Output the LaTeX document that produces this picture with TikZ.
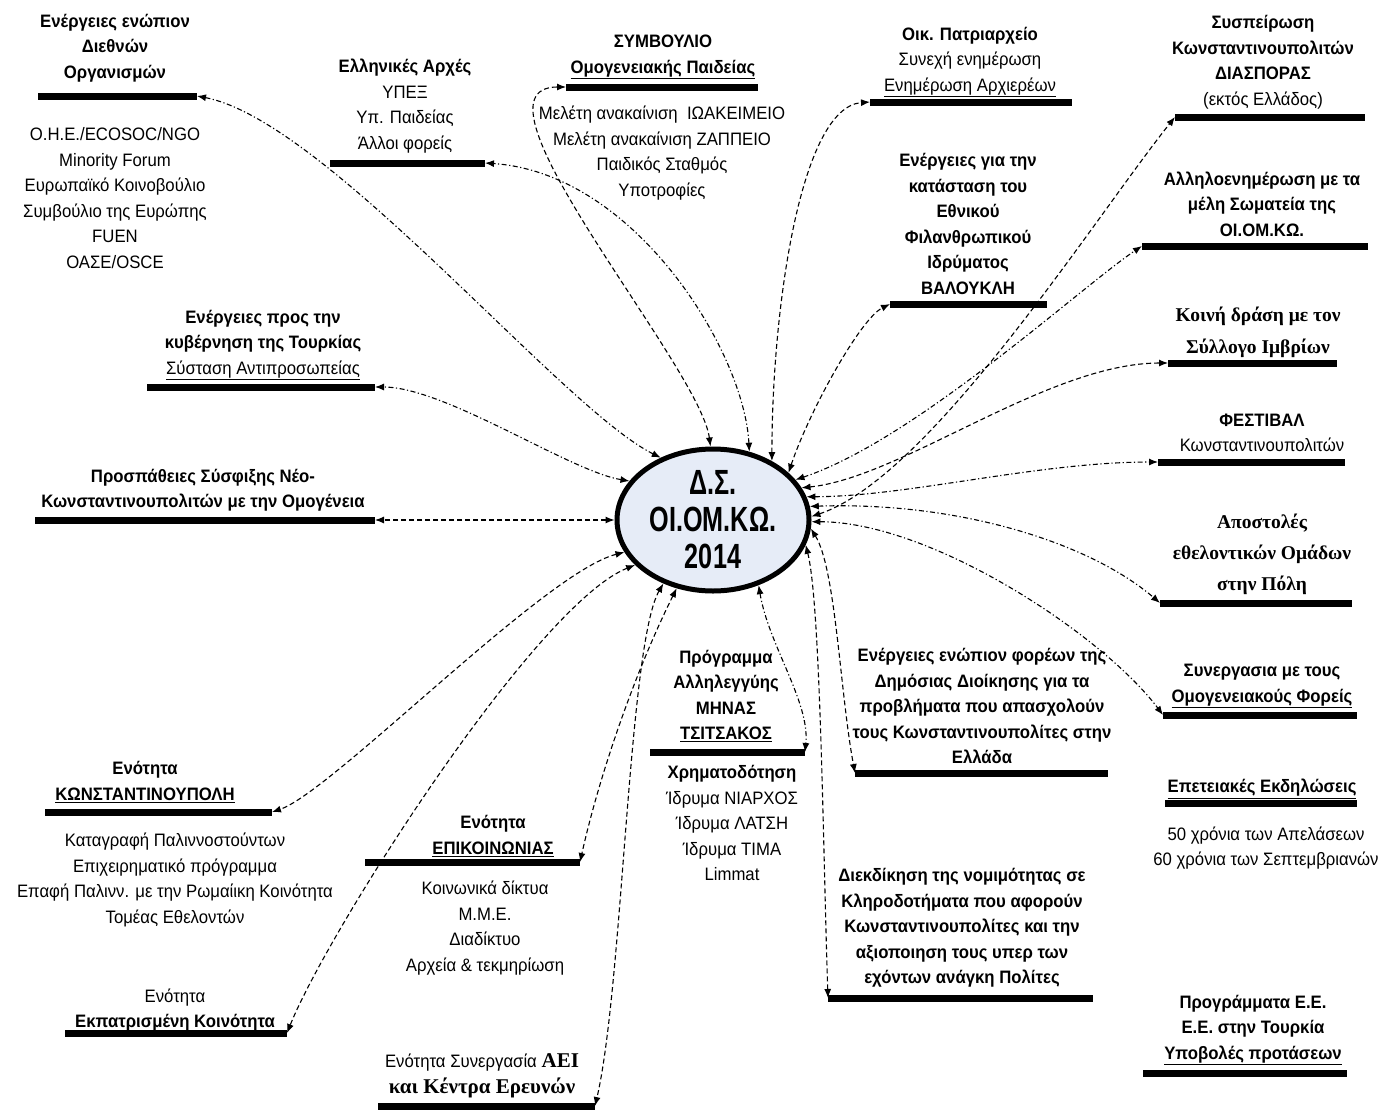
\documentclass[tikz,border=0pt]{standalone}
\usepackage{fontspec}
\setmainfont[FakeStretch=0.93]{Liberation Sans}
\newfontfamily\tnr{Liberation Serif}
\newfontfamily\dsfont[FakeStretch=0.72]{Liberation Sans}
\usetikzlibrary{arrows.meta,shapes.geometric}
\definecolor{dsfill}{RGB}{230,236,247}
\begin{document}
\fontsize{18}{25.5}\selectfont
\begin{tikzpicture}[x=1pt,y=-1pt,
    hd/.style={font=\bfseries,align=center,inner sep=0pt},
    tx/.style={align=center,inner sep=0pt},
    sf/.style={font=\tnr\bfseries\fontsize{19.5}{31}\selectfont,align=center,inner sep=0pt},
    bar/.style={line width=7pt},
    lk/.style={{Latex[length=9pt,width=7pt]}-{Latex[length=9pt,width=7pt]},line width=1.1pt,dash pattern=on 5pt off 3pt},
    lkdd/.style={lk,dash pattern=on 5pt off 2.5pt on 1.2pt off 2.5pt}]
\useasboundingbox (0,0) rectangle (1394,1111);

\node[ellipse,draw,line width=5pt,fill=dsfill,minimum width=192pt,minimum height=142pt,inner sep=0pt,
      font=\dsfont\bfseries\fontsize{35}{37}\selectfont,align=center] (ds) at (713,520) {Δ.Σ.\\ΟΙ.ΟΜ.ΚΩ.\\2014};

% left column
\node[hd] (intl) at (115,48) {Ενέργειες ενώπιον\\Διεθνών\\Οργανισμών};
\coordinate (intlL) at (38,96); \coordinate (intlR) at (197,96);
\node[tx] (intlx) at (115,198) {Ο.Η.Ε./ECOSOC/NGO\\Minority Forum\\Ευρωπαϊκό Κοινοβούλιο\\Συμβούλιο της Ευρώπης\\FUEN\\ΟΑΣΕ/OSCE};

\node[hd] (tur) at (263,345) {Ενέργειες προς την\\κυβέρνηση της Τουρκίας\\\mdseries\underline{Σύσταση Αντιπροσωπείας}};
\coordinate (turL) at (147,387); \coordinate (turR) at (375,387);

\node[hd] (pros) at (203,490) {Προσπάθειες Σύσφιξης Νέο-\\Κωνσταντινουπολιτών με την Ομογένεια};
\coordinate (prosL) at (35,520); \coordinate (prosR) at (375,520);

\node[hd] (kon) at (145,782) {Ενότητα\\\underline{ΚΩΝΣΤΑΝΤΙΝΟΥΠΟΛΗ}};
\coordinate (konL) at (45,812); \coordinate (konR) at (272,812);
\node[tx] (konx) at (175,880) {Καταγραφή Παλιννοστούντων\\Επιχειρηματικό πρόγραμμα\\Επαφή Παλινν. με την Ρωμαίικη Κοινότητα\\Τομέας Εθελοντών};

\node[tx] (ekp) at (175,1011) {Ενότητα\\\textbf{\underline{Εκπατρισμένη Κοινότητα}}};
\coordinate (ekpL) at (65,1033); \coordinate (ekpR) at (287,1033);

% top and bottom middle
\node[tx] (arch) at (405,106) {\textbf{Ελληνικές Αρχές}\\ΥΠΕΞ\\Υπ. Παιδείας\\Άλλοι φορείς};
\coordinate (archL) at (330,163); \coordinate (archR) at (485,163);

\node[hd] (symv) at (663,57) {ΣΥΜΒΟΥΛΙΟ\\\underline{Ομογενειακής Παιδείας}};
\coordinate (symvL) at (566,87); \coordinate (symvR) at (758,87);
\node[tx] (symvx) at (662,153) {Μελέτη ανακαίνιση \ ΙΩΑΚΕΙΜΕΙΟ\\Μελέτη ανακαίνιση ΖΑΠΠΕΙΟ\\Παιδικός Σταθμός\\Υποτροφίες};

\node[hd] (epi) at (493,836) {Ενότητα\\\underline{ΕΠΙΚΟΙΝΩΝΙΑΣ}};
\coordinate (epiL) at (365,862); \coordinate (epiR) at (580,862);
\node[tx] (epix) at (485,928) {Κοινωνικά δίκτυα\\Μ.Μ.Ε.\\Διαδίκτυο\\Αρχεία \& τεκμηρίωση};

\node[tx] (aei) at (482,1076) {Ενότητα Συνεργασία {\tnr\bfseries\fontsize{21}{31}\selectfont ΑΕΙ}\\{\tnr\bfseries\fontsize{21}{31}\selectfont και Κέντρα Ερευνών}};
\coordinate (aeiL) at (378,1106); \coordinate (aeiR) at (595,1106);

\node[hd] (min) at (726,696) {Πρόγραμμα\\Αλληλεγγύης\\ΜΗΝΑΣ\\\underline{ΤΣΙΤΣΑΚΟΣ}};
\coordinate (minL) at (650,752); \coordinate (minR) at (805,752);
\node[tx] (minx) at (732,823) {\textbf{Χρηματοδότηση}\\Ίδρυμα ΝΙΑΡΧΟΣ\\Ίδρυμα ΛΑΤΣΗ\\Ίδρυμα ΤΙΜΑ\\Limmat};

% right middle
\node[tx] (patr) at (970,62) {\textbf{Οικ. Πατριαρχείο}\\Συνεχή ενημέρωση\\\underline{Ενημέρωση Αρχιερέων}};
\coordinate (patrL) at (870,102); \coordinate (patrR) at (1072,102);

\node[hd] (val) at (968,224) {Ενέργειες για την\\κατάσταση του\\Εθνικού\\Φιλανθρωπικού\\Ιδρύματος\\ΒΑΛΟΥΚΛΗ};
\coordinate (valL) at (890,304); \coordinate (valR) at (1047,304);

\node[hd] (dim) at (982,706) {Ενέργειες ενώπιον φορέων της\\Δημόσιας Διοίκησης για τα\\προβλήματα που απασχολούν\\τους Κωνσταντινουπολίτες στην\\Ελλάδα};
\coordinate (dimL) at (855,773); \coordinate (dimR) at (1108,773);

\node[hd] (dik) at (962,928) {Διεκδίκηση της νομιμότητας σε\\Κληροδοτήματα που αφορούν\\Κωνσταντινουπολίτες και την\\αξιοποιηση τους υπερ των\\εχόντων ανάγκη Πολίτες};
\coordinate (dikL) at (828,998); \coordinate (dikR) at (1093,998);

% right column
\node[hd] (dias) at (1263,62) {Συσπείρωση\\Κωνσταντινουπολιτών\\ΔΙΑΣΠΟΡΑΣ\\\mdseries(εκτός Ελλάδος)};
\coordinate (diasL) at (1175,117); \coordinate (diasR) at (1365,117);

\node[hd] (all) at (1262,204) {Αλληλοενημέρωση με τα\\μέλη Σωματεία της\\ΟΙ.ΟΜ.ΚΩ.};
\coordinate (allL) at (1142,246); \coordinate (allR) at (1368,246);

\node[sf,font=\tnr\bfseries\fontsize{19.5}{32}\selectfont] (imv) at (1258,332) {Κοινή δράση με τον\\Σύλλογο Ιμβρίων};
\coordinate (imvL) at (1168,363); \coordinate (imvR) at (1337,363);

\node[tx] (fest) at (1262,433) {\textbf{ΦΕΣΤΙΒΑΛ}\\Κωνσταντινουπολιτών};
\coordinate (festL) at (1158,462); \coordinate (festR) at (1345,462);

\node[sf] (apo) at (1262,554) {Αποστολές\\εθελοντικών Ομάδων\\στην Πόλη};
\coordinate (apoL) at (1160,603); \coordinate (apoR) at (1352,603);

\node[hd] (syn) at (1262,686) {Συνεργασια με τους\\\underline{Ομογενειακούς Φορείς}};
\coordinate (synL) at (1163,715); \coordinate (synR) at (1357,715);

\node[hd] (epet) at (1262,789) {\underline{Επετειακές Εκδηλώσεις}};
\coordinate (epetL) at (1165,803); \coordinate (epetR) at (1357,803);
\node[tx] (epetx) at (1266,848) {50 χρόνια των Απελάσεων\\60 χρόνια των Σεπτεμβριανών};

\node[hd] (ee) at (1253,1030) {Προγράμματα Ε.Ε.\\Ε.Ε. στην Τουρκία\\\underline{Υποβολές προτάσεων}};
\coordinate (eeL) at (1143,1073); \coordinate (eeR) at (1347,1073);

% bars
\foreach \b in {intl,tur,pros,kon,ekp,arch,symv,epi,aei,min,patr,val,dim,dik,dias,all,imv,fest,apo,syn,epet,ee}
  \draw[bar] (\b L) -- (\b R);

% links
\draw[lkdd] (ds.130) .. controls +(-100,-50) and +(130,25) .. (intlR);
\draw[lk] (ds.92) .. controls +(-10,-80) and +(-110,0) .. (symvL);
\draw[lkdd] (ds.62) .. controls +(-5,-100) and +(150,10) .. (archR);
\draw[lk] (ds.45) .. controls +(0,-150) and +(-70,5) .. (patrL);
\draw[lk] (ds.32) .. controls +(20,-60) and +(-30,15) .. (valL);
\draw[lk] (ds.2) .. controls +(120,-40) and +(-80,100) .. (diasL);
\draw[lkdd] (ds.26) .. controls +(120,-40) and +(-60,40) .. (allL);
\draw[lk] (ds.20) .. controls +(100,-10) and +(-120,0) .. (imvL);
\draw[lkdd] (ds.14) .. controls +(100,0) and +(-120,0) .. (festL);
\draw[lkdd] (ds.8) .. controls +(150,-5) and +(-70,-60) .. (apoL);
\draw[lkdd] (ds.-1) .. controls +(120,0) and +(-60,-80) .. (synL);
\draw[lk] (ds.-5) .. controls +(25,40) and +(-15,-80) .. (dimL);
\draw[lk] (ds.-15) .. controls +(15,60) and +(-5,-150) .. (dikL);
\draw[lkdd] (ds.-55) .. controls +(10,60) and +(5,-50) .. (minR);
\draw[lk] (ds.-118) .. controls +(-40,80) and +(20,-90) .. (epiR);
\draw[lk] (ds.-128) .. controls +(-35,60) and +(28,-120) .. (aeiR);
\draw[lk] (ds.-160) .. controls +(-80,20) and +(60,-20) .. (konR);
\draw[lk] (ds.-150) .. controls +(-100,40) and +(40,-100) .. (ekpR);
\draw[lkdd] (ds.155) .. controls +(-60,-10) and +(70,0) .. (turR);
\draw[lk] (ds.180) -- (prosR);
\end{tikzpicture}
\end{document}
